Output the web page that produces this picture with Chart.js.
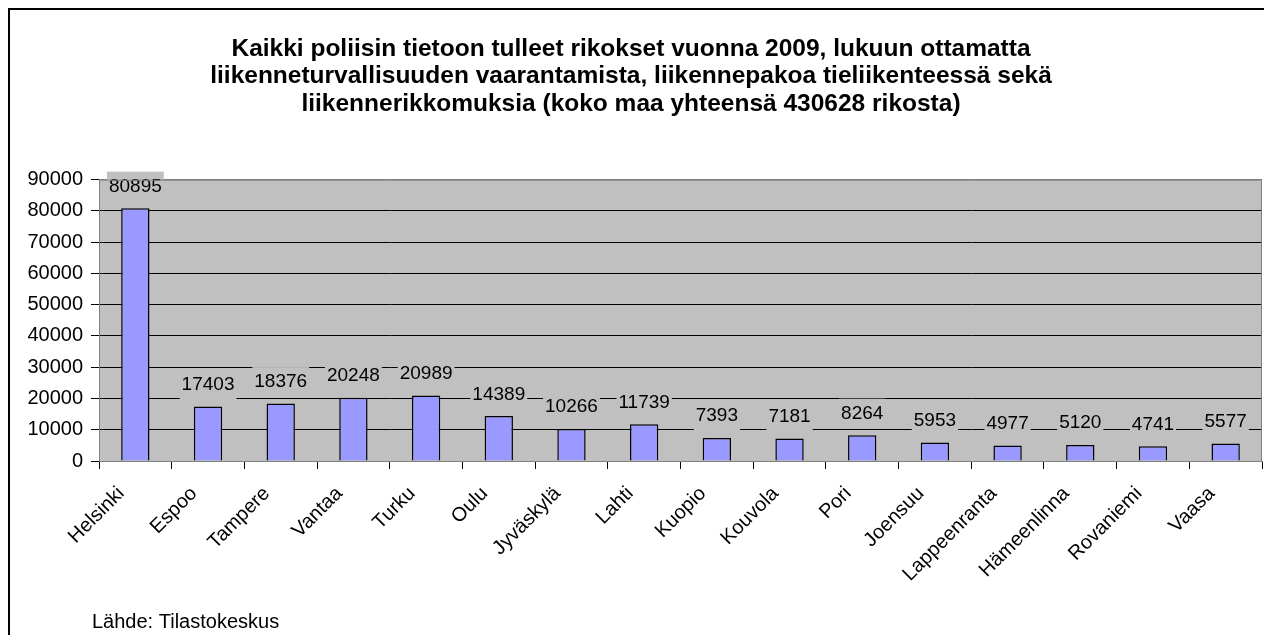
<!DOCTYPE html>
<html>
<head>
<meta charset="utf-8">
<script src="https://cdn.jsdelivr.net/npm/chart.js@4.4.1/dist/chart.umd.min.js"></script>
<style>
  html, body { margin: 0; padding: 0; background: #fff; }
  #wrap { width: 1264px; height: 635px; position: relative; }
</style>
</head>
<body>
<div id="wrap"><canvas id="chart1" width="1264" height="635"></canvas></div>
<script>
const cities = ['Helsinki', 'Espoo', 'Tampere', 'Vantaa', 'Turku', 'Oulu', 'Jyväskylä', 'Lahti',
  'Kuopio', 'Kouvola', 'Pori', 'Joensuu', 'Lappeenranta', 'Hämeenlinna', 'Rovaniemi', 'Vaasa'];
const crimes = [80895, 17403, 18376, 20248, 20989, 14389, 10266, 11739,
  7393, 7181, 8264, 5953, 4977, 5120, 4741, 5577];
const titleLines = [
  'Kaikki poliisin tietoon tulleet rikokset vuonna 2009, lukuun ottamatta',
  'liikenneturvallisuuden vaarantamista, liikennepakoa tieliikenteessä sekä',
  'liikennerikkomuksia (koko maa yhteensä 430628 rikosta)'
];
const sourceText = 'Lähde: Tilastokeskus';
const yMax = 90000;
const yStep = 10000;

const ctx = document.getElementById('chart1');
const fam = 'Arial, "Liberation Sans"';

// grey plot area + outer frame
const plotBack = {
  id: 'plotBack',
  beforeDraw(chart) {
    const {ctx, chartArea: a} = chart;
    ctx.save();
    ctx.fillStyle = '#fff';
    ctx.fillRect(0, 0, chart.width, chart.height);
    ctx.fillStyle = '#C0C0C0';
    ctx.fillRect(a.left, a.top, a.right - a.left, a.bottom - a.top);
    ctx.strokeStyle = '#000';
    ctx.lineWidth = 2;
    ctx.beginPath();
    ctx.moveTo(9, chart.height);
    ctx.lineTo(9, 9);
    ctx.lineTo(chart.width, 9);
    ctx.stroke();
    ctx.restore();
  },
  afterDraw(chart) {
    const {ctx, chartArea: a} = chart;
    ctx.save();
    ctx.strokeStyle = '#808080';
    ctx.lineWidth = 1;
    ctx.beginPath();
    ctx.moveTo(a.left, a.top + 0.5);
    ctx.lineTo(a.right - 0.5, a.top + 0.5);
    ctx.lineTo(a.right - 0.5, a.bottom);
    ctx.stroke();
    ctx.font = '20px ' + fam;
    ctx.fillStyle = '#000';
    ctx.textAlign = 'left';
    ctx.textBaseline = 'alphabetic';
    ctx.fillText(sourceText, 92, 628);
    ctx.restore();
  }
};

// value labels with grey box like in excel
const valueLabels = {
  id: 'valueLabels',
  afterDatasetsDraw(chart) {
    const {ctx} = chart;
    const meta = chart.getDatasetMeta(0);
    ctx.save();
    ctx.font = '19px ' + fam;
    ctx.textAlign = 'center';
    ctx.textBaseline = 'alphabetic';
    meta.data.forEach((bar, i) => {
      const txt = String(crimes[i]);
      const w = ctx.measureText(txt).width;
      const base = bar.y - 16.5;
      ctx.fillStyle = '#C0C0C0';
      ctx.fillRect(bar.x - w / 2 - 2, base - 20, w + 4, 30);
      ctx.fillStyle = '#000';
      ctx.fillText(txt, bar.x, base);
    });
    ctx.restore();
  }
};

new Chart(ctx, {
  type: 'bar',
  data: {
    labels: cities,
    datasets: [{
      data: crimes,
      backgroundColor: '#9999FF',
      borderColor: '#000',
      borderWidth: 1.5,
      categoryPercentage: 1,
      barPercentage: 0.39
    }]
  },
  options: {
    responsive: false,
    animation: false,
    layout: { padding: { left: 0, right: 2, top: 0, bottom: 0 } },
    plugins: {
      legend: { display: false },
      tooltip: { enabled: false },
      title: {
        display: true,
        text: titleLines,
        color: '#000',
        font: { family: fam, size: 24.5, weight: 'bold', lineHeight: 1.125 },
        padding: { top: 35, bottom: 62 }
      }
    },
    scales: {
      x: {
        grid: { drawOnChartArea: false, drawTicks: true, tickLength: 8, tickColor: '#000', offset: true },
        border: { color: '#808080', width: 1 },
        ticks: {
          color: '#000',
          font: { family: fam, size: 20 },
          minRotation: 45,
          maxRotation: 45,
          padding: 13,
          labelOffset: -14,
          autoSkip: false
        },
        afterFit(scale) { scale.height = 174; }
      },
      y: {
        min: 0,
        max: yMax,
        grid: {
          color: (c) => c.tick && c.tick.value === yMax ? '#808080' : '#000',
          tickColor: '#000',
          tickLength: 8,
          lineWidth: 1
        },
        border: { color: '#808080', width: 1 },
        ticks: {
          stepSize: yStep,
          color: '#000',
          font: { family: fam, size: 20 },
          padding: 8,
          callback: (v) => String(v)
        },
        afterFit(scale) { scale.width = 99; }
      }
    }
  },
  plugins: [plotBack, valueLabels]
});
</script>
</body>
</html>
